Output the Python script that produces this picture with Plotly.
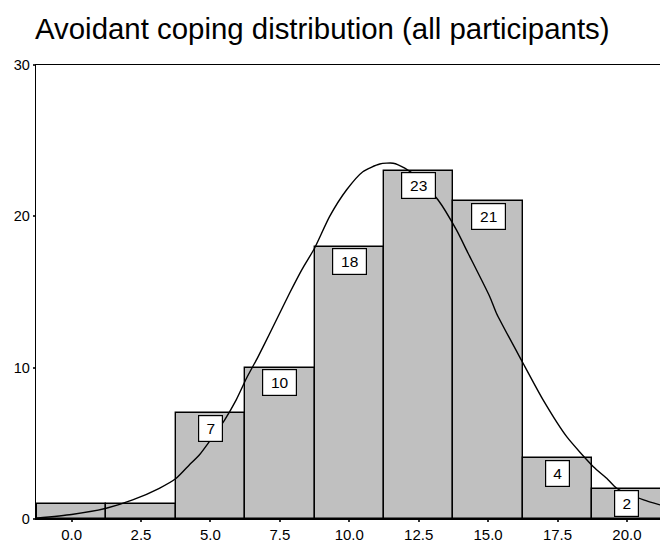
import plotly.graph_objects as go

# Data
bin_centers = [0.0, 2.5, 5.0, 7.5, 10.0, 12.5, 15.0, 17.5, 20.0]
counts = [1, 1, 7, 10, 18, 23, 21, 4, 2]

# fitted normal curve
curve_x = [-1.28, 0.0, 1.25, 2.2, 3.16, 3.77, 4.24, 4.60, 4.96, 5.51, 5.93, 6.3, 6.71, 7.14,
           7.85, 8.3, 8.75, 9.29, 9.90, 10.49, 11.10, 11.58, 12.0, 12.5, 13.2, 13.86,
           14.28, 15.06, 15.30, 16.26, 16.98, 17.83, 18.79, 19.27, 19.63, 20.6, 21.19]
curve_y = [0.05, 0.3, 0.71, 1.26, 2.03, 2.69, 3.57, 4.23, 5.11, 6.54, 7.87, 9.3, 10.7, 12.27,
           14.92, 16.5, 17.89, 19.98, 21.74, 22.95, 23.46, 23.51, 23.18, 22.5, 21.08, 19.1,
           17.56, 14.69, 13.6, 10.29, 7.87, 5.44, 3.46, 2.69, 2.03, 1.26, 0.93]

x_tickvals = [0.0, 2.5, 5.0, 7.5, 10.0, 12.5, 15.0, 17.5, 20.0]
x_ticktext = ["0.0", "2.5", "5.0", "7.5", "10.0", "12.5", "15.0", "17.5", "20.0"]
y_tickvals = [0, 10, 20, 30]

title_text = "Avoidant coping distribution (all participants)"
FONT = "Liberation Sans, Arial, sans-serif"

fig = go.Figure()
fig.add_trace(go.Bar(
    x=bin_centers, y=counts, width=2.5,
    marker=dict(color="#c0c0c0", line=dict(color="black", width=1.4)),
    hoverinfo="x+y", showlegend=False,
))
fig.add_trace(go.Scatter(
    x=curve_x, y=curve_y, mode="lines",
    line=dict(color="black", width=1.4, shape="spline", smoothing=0.6),
    hoverinfo="skip", showlegend=False,
))

for xc, c in zip(bin_centers, counts):
    if c < 2:
        continue
    txt = str(c)
    fig.add_annotation(
        x=xc, y=c, xref="x", yref="y", text=txt, showarrow=False,
        yanchor="top", xanchor="center", yshift=-1.5,
        font=dict(family=FONT, size=15.5, color="black"),
        bgcolor="white", bordercolor="black", borderwidth=1.2, borderpad=4,
        width=15 if len(txt) == 1 else 25, height=17,
    )

fig.update_layout(
    width=660, height=543,
    margin=dict(l=36, r=0, t=65, b=24, autoexpand=False),
    paper_bgcolor="white", plot_bgcolor="white",
    bargap=0,
    font=dict(family=FONT, size=15, color="black"),
    title=dict(text=title_text, x=35 / 660, xanchor="left", xref="container",
               y=1 - 29 / 543, yanchor="middle",
               font=dict(family=FONT, size=29.4, color="black")),
)
fig.update_xaxes(
    range=[-1.28, 21.19], tickvals=x_tickvals, ticktext=x_ticktext,
    showgrid=False, zeroline=False, showline=True, linecolor="black", linewidth=1.3,
    mirror=True, ticks="outside", ticklen=2, tickwidth=2, tickcolor="#333",
    tickfont=dict(size=15), fixedrange=True, automargin=False,
)
fig.update_yaxes(
    range=[0, 30], tickvals=y_tickvals,
    showgrid=False, zeroline=False, showline=True, linecolor="black", linewidth=1.3,
    ticks="outside", ticklen=2, tickwidth=2, tickcolor="#333",
    tickfont=dict(size=14.5), fixedrange=True, automargin=False,
)

fig.write_html("out.html", config={"displayModeBar": False},
               post_script="document.body.style.margin='0';document.body.style.overflow='hidden';")
